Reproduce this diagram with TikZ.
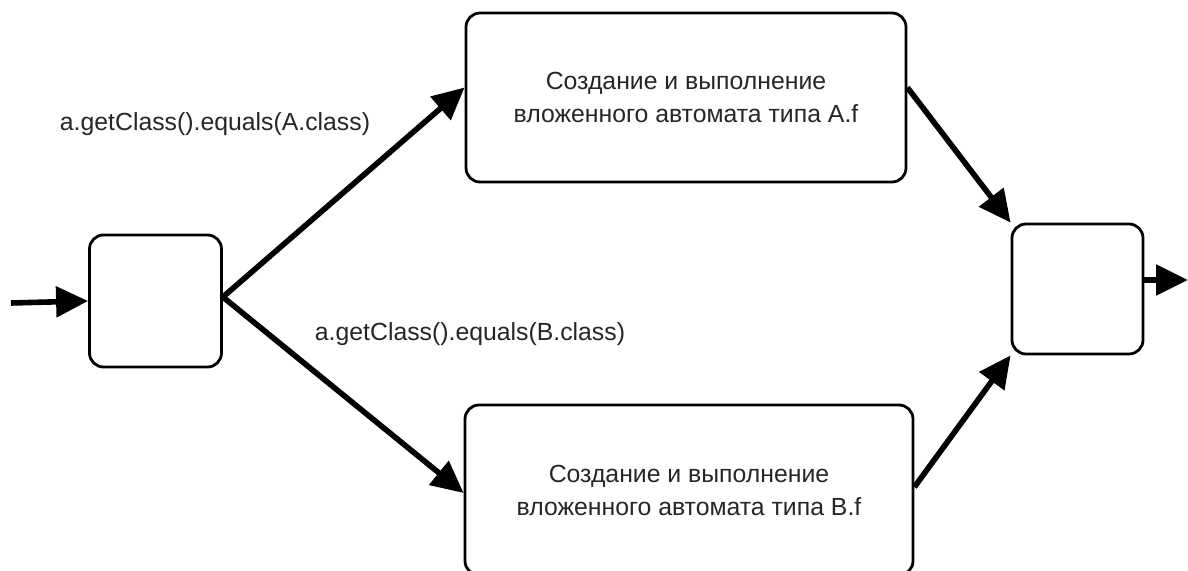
\documentclass[tikz,border=0pt]{standalone}
\usepackage{fontspec}
\setmainfont{Liberation Sans}
\usetikzlibrary{arrows.meta, positioning}

\begin{document}
\begin{tikzpicture}[
    x=0.5pt, y=-0.5pt,
    state/.style={rectangle, rounded corners=7pt, draw, line width=1.4pt,
                  inner sep=0pt},
    nested/.style={state, minimum width=220pt, minimum height=84.5pt,
                   align=center, text=black!85,
                   font=\fontsize{12.4}{16.5}\selectfont},
    smallstate/.style={state, minimum width=66pt, minimum height=66pt},
    trans/.style={-{Triangle[length=16pt, width=15pt]}, line width=2.8pt},
    cond/.style={font=\fontsize{12.4}{15}\selectfont, text=black!85,
                 inner sep=0pt}
  ]
  \clip (0,0) rectangle (1188,571);

  \node[smallstate] (start) at (155.5,301) {};
  \node[nested] (nestA) at (686,97.5) {Создание и выполнение\\вложенного автомата типа A.f};
  \node[nested, minimum width=224pt, minimum height=85pt] (nestB) at (689,490)
    {Создание и выполнение\\вложенного автомата типа B.f};
  \node[smallstate, minimum width=65.5pt, minimum height=65pt] (finish) at (1077.5,289) {};

  \coordinate (in) at (11,303);
  \coordinate (out) at (1188,280);

  \draw[trans] (in) -- (start.west);
  \draw[trans] ([yshift=2pt]start.east) -- ([yshift=5pt]nestA.west);
  \draw[trans] ([yshift=2pt]start.east) -- ([yshift=-1.5pt]nestB.west);
  \draw[trans] ([yshift=5pt]nestA.east) -- (finish.north west);
  \draw[trans] ([yshift=1.5pt]nestB.east) -- (finish.south west);
  \draw[trans] ([yshift=4.5pt]finish.east) -- (out);

  \node[cond] (condA) at (215,124) {a.getClass().equals(A.class)};
  \node[cond] (condB) at (470,334) {a.getClass().equals(B.class)};
\end{tikzpicture}
\end{document}
